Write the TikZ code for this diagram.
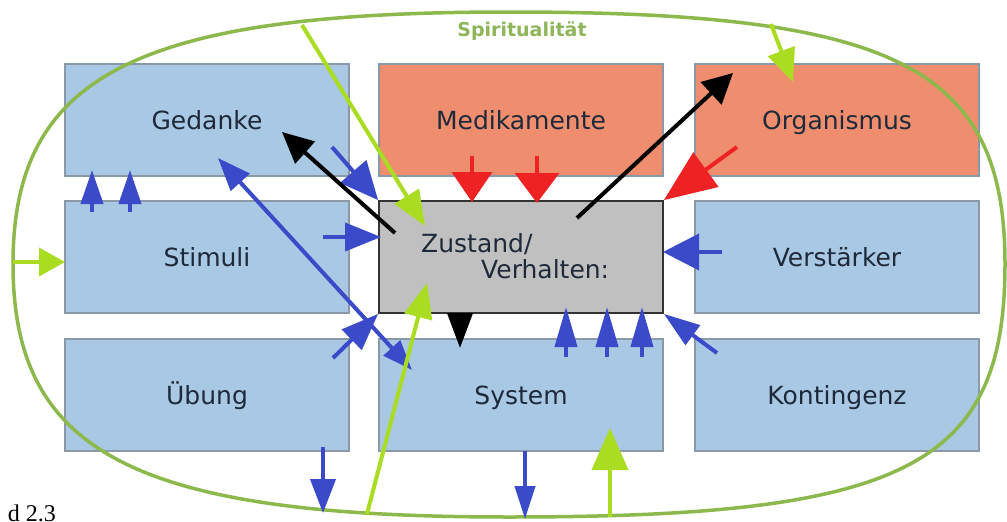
\documentclass[tikz,border=0pt]{standalone}
\usepackage{fontspec}
\setmainfont{DejaVu Sans}
\newfontfamily\tnr{Liberation Serif}
\usetikzlibrary{arrows.meta}
\definecolor{boxblue}{HTML}{A8C8E4}
\definecolor{boxsalmon}{HTML}{EE8E6E}
\definecolor{boxgray}{HTML}{C0C0C0}
\definecolor{edgegray}{HTML}{8A98A8}
\definecolor{txt}{HTML}{1E2A3A}
\definecolor{ellgreen}{HTML}{8CB84C}
\definecolor{labgreen}{HTML}{8FB55A}
\definecolor{lime}{HTML}{AADD22}
\definecolor{arrblue}{HTML}{3A4AC8}
\definecolor{arrred}{HTML}{EE2222}
\begin{document}
\begin{tikzpicture}[x=1pt,y=-1pt,
  box/.style={draw=edgegray,line width=1.2pt,minimum width=284pt,minimum height=112pt,
    inner sep=0pt,font=\fontsize{25}{29}\selectfont,text=txt,text height=18pt,text depth=0pt},
  bluebox/.style={box,fill=boxblue},
  redbox/.style={box,fill=boxsalmon},
  graybox/.style={box,fill=boxgray,draw=black!80,line width=1.8pt},
  ztext/.style={anchor=base west,inner sep=0pt,font=\fontsize{25}{29}\selectfont,text=txt},
  arr/.style={line width=4pt,line cap=butt},
  ah/.style 2 args={-{Triangle[length=#1pt,width=#2pt]}},
  bl/.style={arr,draw=arrblue,fill=arrblue},
  rd/.style={arr,draw=arrred,fill=arrred},
  bk/.style={arr,draw=black,fill=black},
  lm/.style={arr,draw=lime,fill=lime},
]
\useasboundingbox (0,0) rectangle (1007,522);
\fill[white] (0,0) rectangle (1007,522);

% boxes
\node[bluebox] (ged) at (207,120) {Gedanke};
\node[redbox]  (med) at (521,120) {Medikamente};
\node[redbox]  (org) at (837,120) {Organismus};
\node[bluebox] (sti) at (207,257) {Stimuli};
\node[graybox] (zus) at (521,257) {};
\node[bluebox] (ver) at (837,257) {Verstärker};
\node[bluebox] (ueb) at (207,395) {Übung};
\node[bluebox] (sys) at (521,395) {System};
\node[bluebox] (kon) at (837,395) {Kontingenz};
\node[ztext] (zt1) at (421,252) {Zustand/};
\node[ztext] (zt2) at (481,278) {Verhalten:};

% Spiritualitaet outline
\draw[ellgreen,line width=3.5pt]
  (509,12) .. controls (137,12) and (13,75) .. (13,264)
  .. controls (13,454) and (137,517) .. (509,517)
  .. controls (906,517) and (1005,466) .. (1005,264)
  .. controls (1005,67) and (896,12) .. (509,12) -- cycle;
\node[font=\fontsize{19}{23}\selectfont\bfseries,text=labgreen,inner sep=0pt] (spi) at (522,31) {Spiritualität};

% caption
\node[font=\tnr\fontsize{24}{28}\selectfont,anchor=base east,inner sep=0pt] (cap) at (56,521) {d 2.3};

% coordinates (free ends)
\coordinate (a1s) at (92,212);  \coordinate (a1e) at (92,170);
\coordinate (a2s) at (130,212); \coordinate (a2e) at (130,170);
\coordinate (a3s) at (332,147);
\coordinate (a4s) at (323,237); \coordinate (a4e) at (381,237);
\coordinate (a5s) at (218,158); \coordinate (a5e) at (412,370);
\coordinate (a6s) at (333,358);
\coordinate (a7s) at (323,447); \coordinate (a7e) at (323,513);
\coordinate (a8s) at (525,451); \coordinate (a8e) at (525,519);
\coordinate (a9s) at (566,357);  \coordinate (a9e) at (566,307);
\coordinate (a10s) at (607,357); \coordinate (a10e) at (607,307);
\coordinate (a11s) at (642,357); \coordinate (a11e) at (642,307);
\coordinate (a12s) at (717,353);
\coordinate (a13s) at (722,252); \coordinate (a13e) at (663,252);
\coordinate (r1s) at (472,156); \coordinate (r1e) at (472,202);
\coordinate (r2s) at (537,156); \coordinate (r2e) at (537,203);
\coordinate (r3s) at (737,147);
\coordinate (k1s) at (395,233); \coordinate (k1e) at (282,132);
\coordinate (k2s) at (577,218); \coordinate (k2e) at (733,73);
\coordinate (k3s) at (460,313); \coordinate (k3e) at (460,348);
\coordinate (g1s) at (302,25);  \coordinate (g1e) at (425,226);
\coordinate (g2s) at (771,24);  \coordinate (g2e) at (793,82);
\coordinate (g3s) at (13,262);  \coordinate (g3e) at (65,262);
\coordinate (g4s) at (367,514); \coordinate (g4e) at (427,283);
\coordinate (g5s) at (610,517); \coordinate (g5e) at (610,428);

% blue arrows
\draw[bl,ah={34}{22}] (a1s) -- (a1e);
\draw[bl,ah={34}{22}] (a2s) -- (a2e);
\draw[bl,ah={38}{34}] (a3s) -- (zus.north west);
\draw[bl,ah={36}{28}] (a4s) -- (a4e);
\draw[bl,{Triangle[length=33pt,width=25pt]}-{Triangle[length=30pt,width=22pt]}] (a5s) -- (a5e);
\draw[bl,ah={37}{28}] (a6s) -- (zus.south west);
\draw[bl,ah={34}{25}] (a7s) -- (a7e);
\draw[bl,ah={33}{20}] (a8s) -- (a8e);
\draw[bl,ah={40}{22}] (a9s) -- (a9e);
\draw[bl,ah={40}{22}] (a10s) -- (a10e);
\draw[bl,ah={40}{22}] (a11s) -- (a11e);
\draw[bl,ah={36}{24}] (a12s) -- (zus.south east);
\draw[bl,ah={36}{36}] (a13s) -- (a13e);

% red arrows
\draw[rd,ah={30}{40}] (r1s) -- (r1e);
\draw[rd,ah={30}{44}] (r2s) -- (r2e);
\draw[rd,ah={52}{42}] (r3s) -- (zus.north east);

% black arrows
\draw[bk,ah={31}{29}] (k1s) -- (k1e);
\draw[bk,ah={30}{30}] (k2s) -- (k2e);
\draw[bk,ah={35}{25}] (k3s) -- (k3e);

% lime arrows
\draw[lm,ah={35}{28}] (g1s) -- (g1e);
\draw[lm,ah={33}{28}] (g2s) -- (g2e);
\draw[lm,ah={26}{28}] (g3s) -- (g3e);
\draw[lm,ah={35}{28}] (g4s) -- (g4e);
\draw[lm,ah={42}{36}] (g5s) -- (g5e);
\end{tikzpicture}
\end{document}
